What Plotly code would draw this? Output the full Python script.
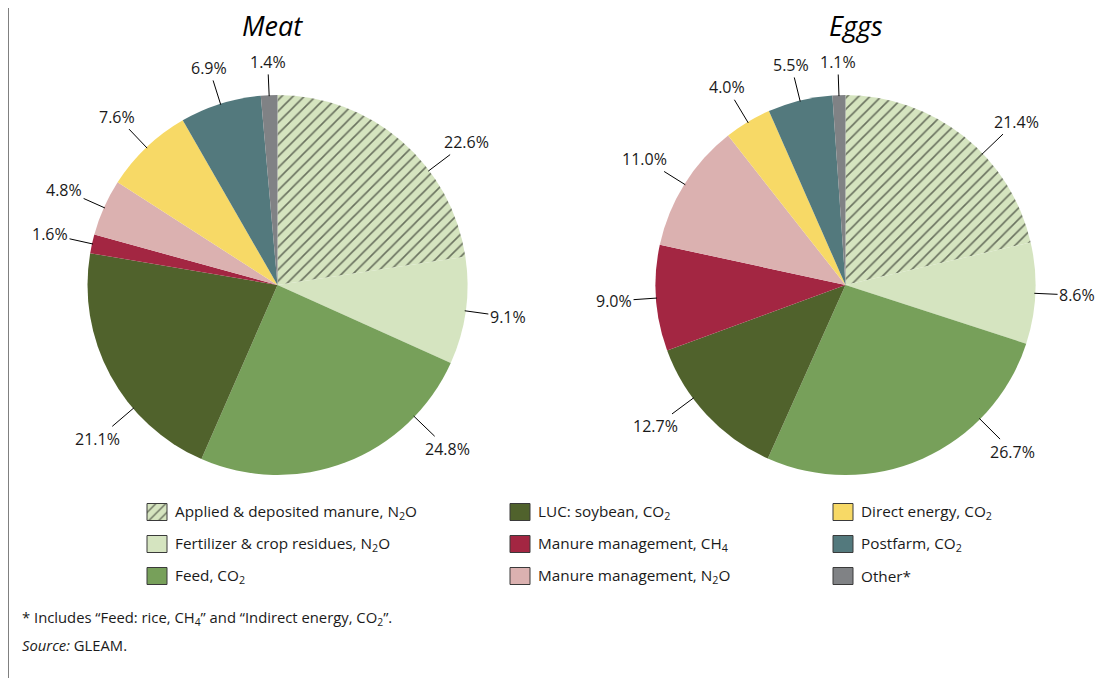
import math
import plotly.graph_objects as go

# ---------------- data ----------------
categories = [
    "Applied & deposited manure, N<sub>2</sub>O",
    "Fertilizer & crop residues, N<sub>2</sub>O",
    "Feed, CO<sub>2</sub>",
    "LUC: soybean, CO<sub>2</sub>",
    "Manure management, CH<sub>4</sub>",
    "Manure management, N<sub>2</sub>O",
    "Direct energy, CO<sub>2</sub>",
    "Postfarm, CO<sub>2</sub>",
    "Other*",
]
meat_values = [22.6, 9.1, 24.8, 21.1, 1.6, 4.8, 7.6, 6.9, 1.4]
eggs_values = [21.4, 8.6, 26.7, 12.7, 9.0, 11.0, 4.0, 5.5, 1.1]
chart_titles = ["Meat", "Eggs"]
footnote = "* Includes \u201cFeed: rice, CH<sub>4</sub>\u201d and \u201cIndirect energy, CO<sub>2</sub>\u201d."
source = "<i>Source:</i> GLEAM."

# ---------------- styles ----------------
colors = ["#d5e4bf", "#d5e4c0", "#77a05a", "#50622c", "#a32642",
          "#dbb1b0", "#f7d966", "#53797d", "#808285"]
patterns = ["/", "", "", "", "", "", "", "", ""]
FONT = "Open Sans"
W, H = 1103, 678          # browser window
OFF = 8                   # page body margin
FW, FH = W - OFF, H - OFF  # figure size
R = 190
centers = [(277.5, 285), (845.5, 285)]   # screen px
title_pos = [(272, 25), (856, 25)]
# where along each slice (0..1) the label sits
label_frac = [
    [0.65, 0.5, 0.22, 0.34, 0.5, 0.5, 0.5, 0.5, 0.5],
    [0.60, 0.5, 0.28, 0.64, 0.5, 0.5, 0.5, 0.5, 0.5],
]
LINE = 24

fig = go.Figure()

for (cx, cy), vals in zip(centers, [meat_values, eggs_values]):
    fx, fy = cx - OFF, cy - OFF
    fig.add_trace(go.Pie(
        labels=categories, values=vals, sort=False, direction="clockwise",
        rotation=0, textinfo="none", hoverinfo="label+percent",
        showlegend=False,
        marker=dict(colors=colors, line=dict(width=0),
                    pattern=dict(shape=patterns, fgcolor="#000000", bgcolor=colors,
                                 size=8, solidity=0.2, fillmode="overlay")),
        domain=dict(x=[(fx - R) / FW, (fx + R) / FW],
                    y=[1 - (fy + R) / FH, 1 - (fy - R) / FH]),
    ))

# percentage labels with leader lines
for (cx, cy), vals, fracs in zip(centers, [meat_values, eggs_values], label_frac):
    total = sum(vals)
    cum = 0.0
    for v, f in zip(vals, fracs):
        a = 2 * math.pi * (cum + v * f) / total
        cum += v
        s, c = math.sin(a), math.cos(a)
        ex, ey = cx + (R - 1) * s, cy - (R - 1) * c
        txt = f"{v:.1f}%"
        w = 9.2 * len(txt)
        h = 19
        d = LINE + abs(s) * w / 2 + abs(c) * h / 2
        fig.add_annotation(
            x=ex, y=ey, xref="x", yref="y", text=txt,
            showarrow=True, arrowhead=0, arrowwidth=1, arrowcolor="#000000",
            standoff=0, startstandoff=0, ax=d * s, ay=-d * c,
            font=dict(family=FONT, size=16, color="#1a1a1a"),
        )

# titles
for t, (tx, ty) in zip(chart_titles, title_pos):
    fig.add_annotation(x=tx, y=ty, xref="x", yref="y", text=f"<i>{t}</i>",
                       showarrow=False, borderpad=0,
                       font=dict(family=FONT, size=27, color="#000"))

# legend (column-major, 3 rows)
col_x = [147, 510, 833]
row_y = [512, 544, 576]
SW, SH = 20, 17
for i, (name, col) in enumerate(zip(categories, colors)):
    x0 = col_x[i // 3]
    y0 = row_y[i % 3] - SH / 2
    if patterns[i]:
        fig.add_trace(go.Scatter(
            x=[x0, x0 + SW, x0 + SW, x0, x0], y=[y0, y0, y0 + SH, y0 + SH, y0],
            mode="lines", fill="toself", fillcolor=col,
            fillpattern=dict(shape=patterns[i], fgcolor="#000000", bgcolor=col,
                             size=7, solidity=0.2, fillmode="overlay"),
            line=dict(color="#3a3a3a", width=1), showlegend=False, hoverinfo="skip",
        ))
    else:
        fig.add_shape(type="rect", xref="x", yref="y", x0=x0, x1=x0 + SW,
                      y0=y0, y1=y0 + SH, fillcolor=col,
                      line=dict(color="#3a3a3a", width=1))
    fig.add_annotation(x=x0 + SW + 6, y=row_y[i % 3], xref="x", yref="y",
                       text=name, showarrow=False, xanchor="left", yanchor="middle",
                       font=dict(family=FONT, size=15.3, color="#1a1a1a"))

# footnote and source
fig.add_annotation(x=20, y=618, xref="x", yref="y", text=footnote, showarrow=False,
                   xanchor="left", yanchor="middle",
                   font=dict(family=FONT, size=14.8, color="#1a1a1a"))
fig.add_annotation(x=20, y=645, xref="x", yref="y", text=source, showarrow=False,
                   xanchor="left", yanchor="middle",
                   font=dict(family=FONT, size=14.8, color="#1a1a1a"))

# left frame line
fig.add_shape(type="line", xref="x", yref="y", x0=8.5, x1=8.5, y0=OFF, y1=H,
              line=dict(color="#808080", width=1))

fig.update_layout(
    width=FW, height=FH, margin=dict(l=0, r=0, t=0, b=0),
    paper_bgcolor="white", plot_bgcolor="rgba(0,0,0,0)",
    xaxis=dict(range=[OFF, W], visible=False, fixedrange=True, domain=[0, 1]),
    yaxis=dict(range=[H, OFF], visible=False, fixedrange=True, domain=[0, 1]),
    showlegend=False,
)

fig.write_html("out.html")
